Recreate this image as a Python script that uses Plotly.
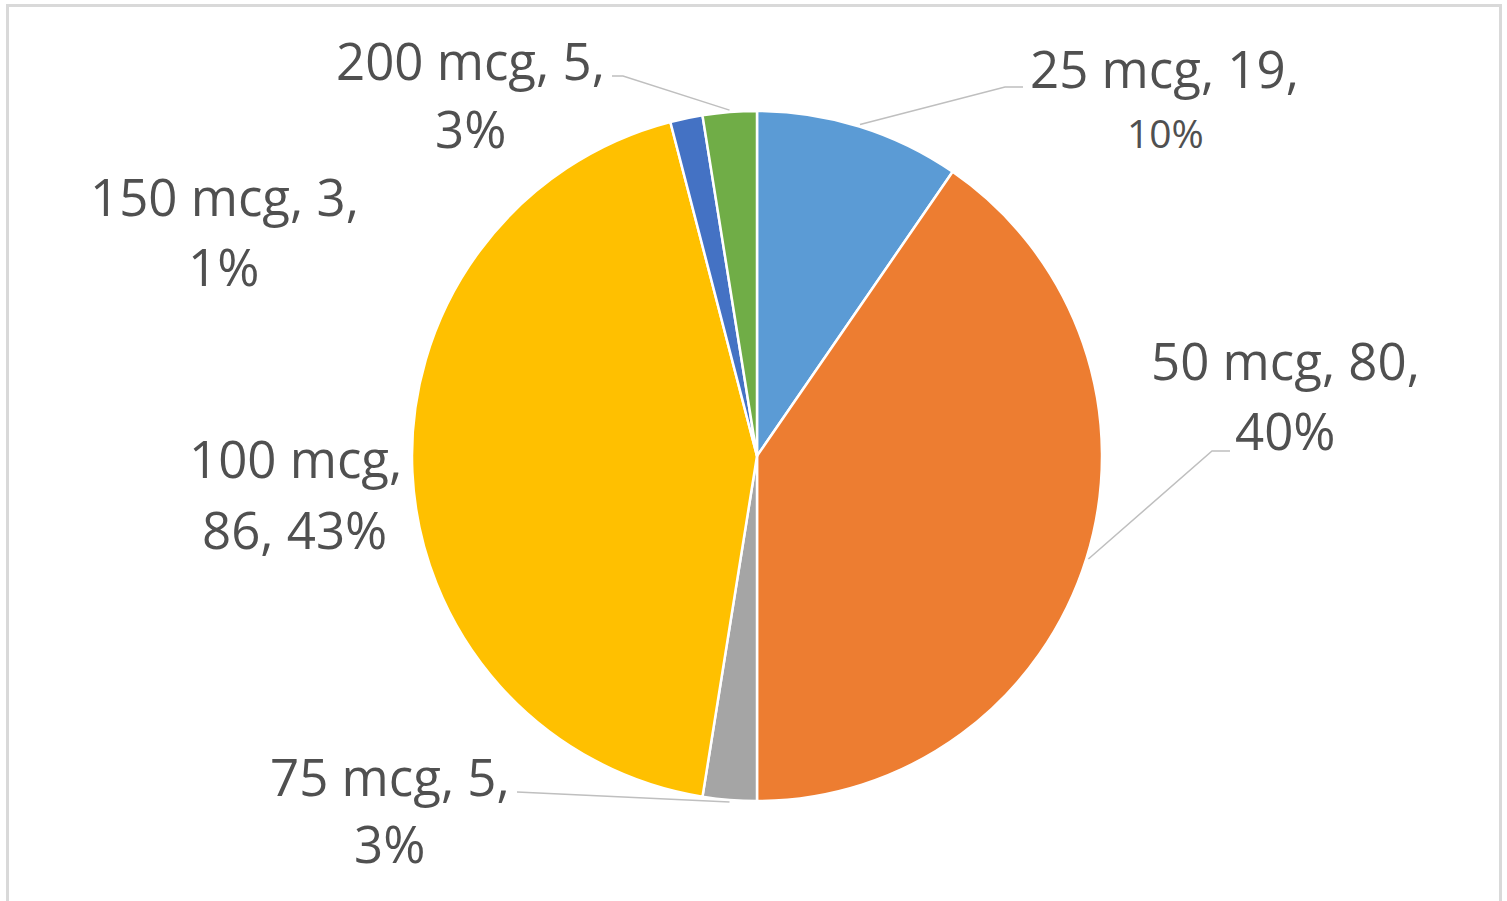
import math
import plotly.graph_objects as go

# ---- data ----
categories = ["25 mcg", "50 mcg", "75 mcg", "100 mcg", "150 mcg", "200 mcg"]
counts = [19, 80, 5, 86, 3, 5]
pct_labels = ["10%", "40%", "3%", "43%", "1%", "3%"]
colors = ["#5B9BD5", "#ED7D31", "#A5A5A5", "#FFC000", "#4472C4", "#70AD47"]

# ---- layout (pixel space) ----
W, H = 1507, 901
CX, CY, R = 757, 456, 345
FONT = "Open Sans"
TXT = "#505050"
FS = 51

# label layout: (line1 x, line1 y, line2 x, line2 y, line2 font size)
label_pos = {
    "25 mcg": (1164, 68, 1165, 132, 39),
    "50 mcg": (1285, 360, 1285, 430, FS),
    "75 mcg": (390, 776, 389, 843, FS),
    "100 mcg": (295, 458, 294, 529, FS),
    "150 mcg": (224, 196, 223, 266, FS),
    "200 mcg": (470, 60, 470, 128, FS),
}
# leader-line label-side points (outer end first)
leader_pts = {
    "25 mcg": [(1023, 87), (1005, 87)],
    "50 mcg": [(1230, 451), (1212, 451)],
    "75 mcg": [(517, 792)],
    "200 mcg": [(612, 76), (623, 76)],
}

fig = go.Figure()
fig.add_trace(go.Pie(
    labels=categories, values=counts, sort=False, direction="clockwise", rotation=0,
    textinfo="none", showlegend=False,
    marker=dict(colors=colors, line=dict(color="white", width=2.5)),
    domain=dict(x=[(CX - R) / W, (CX + R) / W], y=[(H - CY - R) / H, (H - CY + R) / H]),
))

# invisible pixel axes for annotations/shapes
fig.update_xaxes(range=[0, W], visible=False, fixedrange=True)
fig.update_yaxes(range=[H, 0], visible=False, fixedrange=True)

total = sum(counts)
cum = 0
shapes = []
annotations = []
for cat, v, pct in zip(categories, counts, pct_labels):
    mid = (cum + v / 2) / total * 2 * math.pi
    cum += v
    px = CX + (R + 2) * math.sin(mid)
    py = CY - (R + 2) * math.cos(mid)
    if cat in leader_pts:
        pts = leader_pts[cat] + [(px, py)]
        path = "M " + " L ".join(f"{x:.1f},{y:.1f}" for x, y in pts)
        shapes.append(dict(type="path", path=path, xref="x", yref="y",
                           line=dict(color="#BFBFBF", width=1.5)))
    x1, y1, x2, y2, fs2 = label_pos[cat]
    first = f"{cat}, {v}," if cat != "100 mcg" else f"{cat},"
    second = pct if cat != "100 mcg" else f"{v}, {pct}"
    annotations.append(dict(x=x1, y=y1, xref="x", yref="y", text=first,
                            showarrow=False, xanchor="center", yanchor="middle",
                            font=dict(family=FONT, size=FS, color=TXT)))
    annotations.append(dict(x=x2, y=y2, xref="x", yref="y", text=second,
                            showarrow=False, xanchor="center", yanchor="middle",
                            font=dict(family=FONT, size=fs2, color=TXT)))

# chart border
shapes.append(dict(type="rect", xref="x", yref="y", x0=7.5, y0=5.5, x1=1500.5, y1=H + 20,
                   line=dict(color="#D9D9D9", width=3), fillcolor="rgba(0,0,0,0)", layer="above"))

fig.update_layout(
    width=W, height=H, margin=dict(l=0, r=0, t=0, b=0),
    paper_bgcolor="white", plot_bgcolor="white",
    shapes=shapes, annotations=annotations,
)
fig.write_html("out.html", config={"displayModeBar": False},
               post_script="document.body.style.margin='0px';document.body.style.overflow='hidden';")
